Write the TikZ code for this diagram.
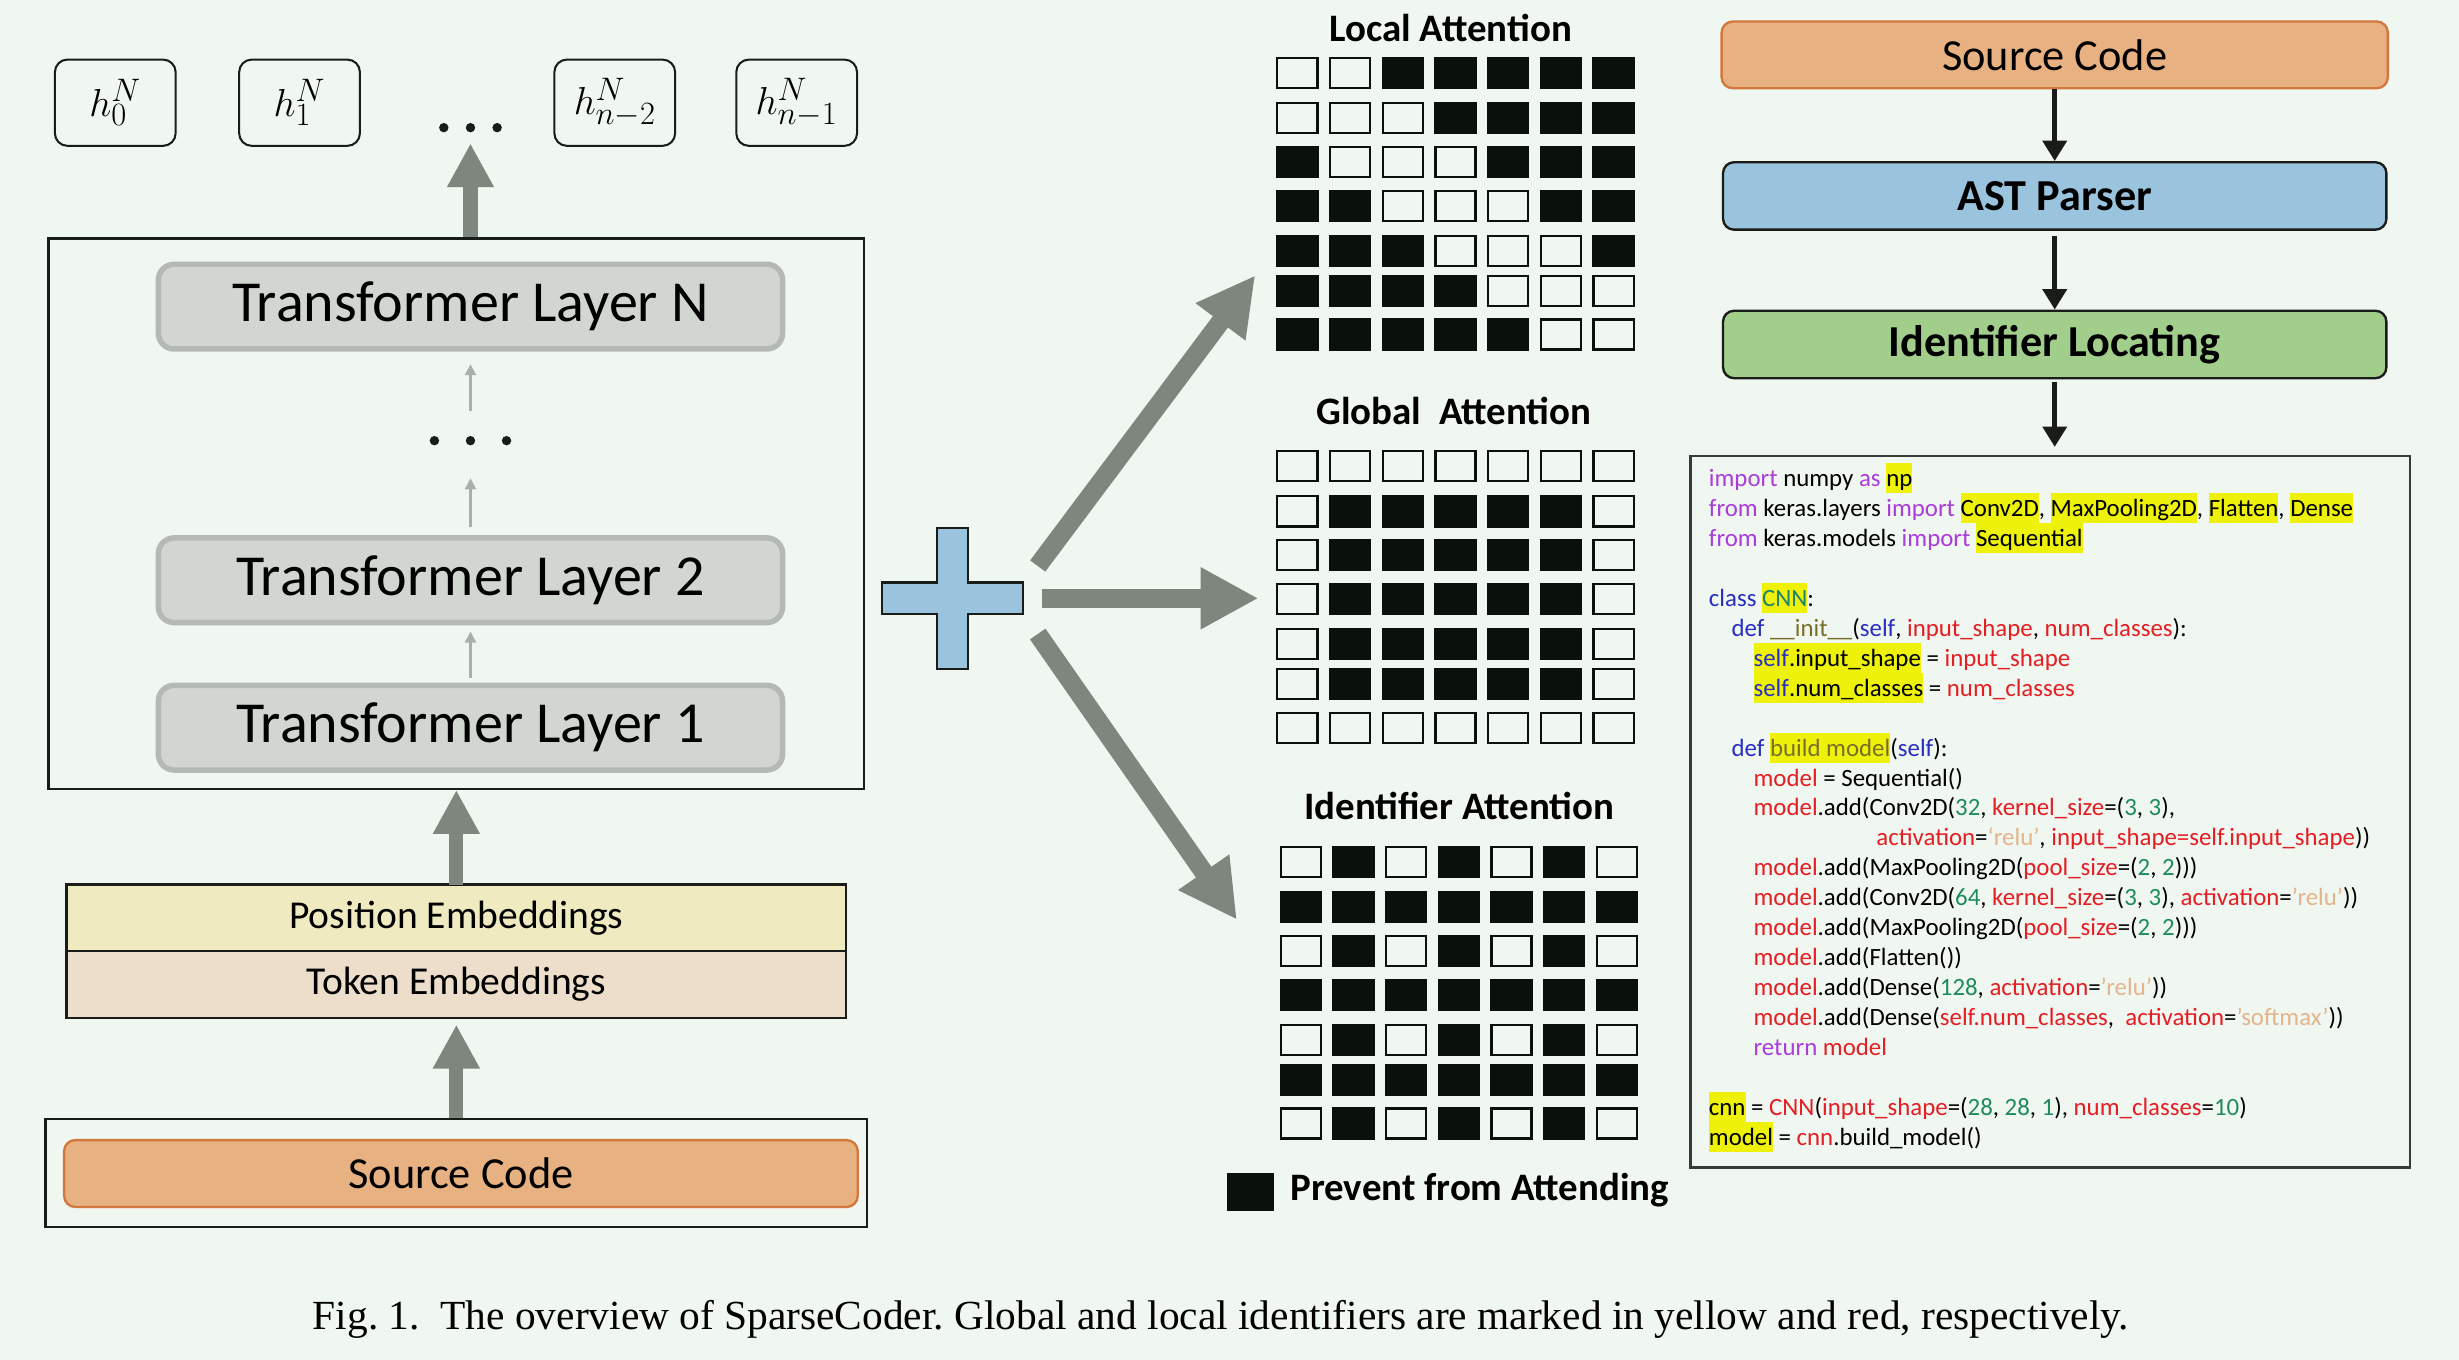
\documentclass[tikz,border=0pt]{standalone}
\usepackage{fontspec}
\setmainfont{Carlito}
\newfontfamily\capfont{Liberation Serif}
\usetikzlibrary{arrows.meta, positioning, calc}

\definecolor{bgmint}{RGB}{240,246,240}
\definecolor{linedark}{RGB}{25,28,25}
\definecolor{codeframe}{RGB}{55,58,55}
\definecolor{layerfill}{RGB}{209,214,208}
\definecolor{layeredge}{RGB}{180,185,179}
\definecolor{posfill}{RGB}{240,234,192}
\definecolor{tokfill}{RGB}{236,222,202}
\definecolor{orangefill}{RGB}{232,177,130}
\definecolor{orangeedge}{RGB}{210,120,60}
\definecolor{astblue}{RGB}{154,195,222}
\definecolor{plusblue}{RGB}{154,195,222}
\definecolor{locgreen}{RGB}{162,206,140}
\definecolor{arrowgrey}{RGB}{127,134,126}
\definecolor{thingrey}{RGB}{170,176,169}
\definecolor{cellblack}{RGB}{10,17,10}
\definecolor{hlyellow}{RGB}{238,242,10}
\definecolor{kwpurple}{RGB}{170,60,220}
\definecolor{kwblue}{RGB}{40,45,195}
\definecolor{codered}{RGB}{228,30,35}
\definecolor{codegreen}{RGB}{30,140,90}
\definecolor{codetan}{RGB}{228,180,140}
\definecolor{codeolive}{RGB}{120,110,40}
\definecolor{codeteal}{RGB}{30,130,110}

\newcommand{\hlt}[1]{{\setlength{\fboxsep}{0pt}\colorbox{hlyellow}{\rule[-4.3pt]{0pt}{19.1pt}#1}}}
\newcommand{\ckw}[1]{\textcolor{kwpurple}{#1}}
\newcommand{\cbl}[1]{\textcolor{kwblue}{#1}}
\newcommand{\crd}[1]{\textcolor{codered}{#1}}
\newcommand{\cgn}[1]{\textcolor{codegreen}{#1}}
\newcommand{\ctn}[1]{\textcolor{codetan}{#1}}
\newcommand{\cov}[1]{\textcolor{codeolive}{#1}}

\begin{document}
\begin{tikzpicture}[
        x=1pt, y=-1pt,
        hbox/.style={draw=linedark, line width=1.3pt, rounded corners=8pt, minimum width=77pt, minimum height=55pt, inner sep=0pt, font=\fontsize{30}{34}\selectfont},
        layer/.style={draw=layeredge, fill=layerfill, line width=3.5pt, rounded corners=10pt, minimum width=398pt, minimum height=54pt, inner sep=0pt, font=\fontsize{37}{42}\selectfont},
        outerbox/.style={draw=linedark, line width=1.5pt, inner sep=0pt},
        emb/.style={draw=linedark, line width=1.5pt, outer sep=0pt, minimum width=497pt, minimum height=42.5pt, inner sep=0pt, font=\fontsize{25.2}{30}\selectfont},
        srcbox/.style={draw=orangeedge, fill=orangefill, line width=1.5pt, rounded corners=7pt, inner sep=0pt, font=\fontsize{28.3}{34}\selectfont},
        stepnode/.style={draw=linedark, line width=1.5pt, rounded corners=7pt, minimum width=423pt, minimum height=43pt, inner sep=0pt, font=\bfseries\fontsize{28.2}{34}\selectfont},
        masktitle/.style={font=\bfseries\fontsize{24.8}{30}\selectfont, inner sep=0pt},
        fatarrow/.style={draw=arrowgrey, line width=9pt, -{Triangle[width=28pt,length=28pt]}},
        widearrow/.style={draw=arrowgrey, line width=12pt, -{Triangle[width=37pt,length=37pt]}},
        thinarrow/.style={draw=thingrey, line width=1.5pt, -{Triangle[width=7pt,length=7pt]}},
        flowarrow/.style={draw=linedark, line width=3.5pt, -{Triangle[width=15pt,length=13pt]}},
        maskon/.style={fill=cellblack},
        maskoff/.style={draw=cellblack, line width=1.4pt}
    ]
        \useasboundingbox (0,0) rectangle (1568,867);
        \fill[bgmint] (0,0) rectangle (1568,867);

        \node[hbox] (h0) at (73.5,65.5) {$h_0^N$};
        \node[hbox] (h1) at (191,65.5) {$h_1^N$};
        \node[hbox] (hn2) at (392,65.5) {$h_{n-2}^N$};
        \node[hbox] (hn1) at (508,65.5) {$h_{n-1}^N$};
        \coordinate (tdots) at (300,81.4);
        \foreach \dx in {-17,0,17} \fill[linedark] ($(tdots)+(\dx,0)$) circle[radius=3pt];

        \node[outerbox, minimum width=520pt, minimum height=351pt] (enc) at (291,327.5) {};
        \node[layer] (lN) at (300,195.5) {Transformer Layer N};
        \node[layer] (l2) at (300,370) {Transformer Layer 2};
        \node[layer] (l1) at (300,464) {Transformer Layer 1};
        \coordinate (mdots) at (300,281);
        \foreach \dx in {-23,0,23} \fill[linedark] ($(mdots)+(\dx,0)$) circle[radius=3pt];

        \draw[thinarrow, shorten <=19pt, shorten >=8pt] (mdots) -- (lN.south);
        \draw[thinarrow, shorten <=5pt, shorten >=24pt] (l2.north) -- (mdots);
        \draw[thinarrow, shorten <=3pt, shorten >=4pt] (l1.north) -- (l2.south);
        \draw[fatarrow, shorten >=10pt] (enc.north -| tdots) -- (tdots);

        \node[emb, fill=posfill] (pos) at (291,585.3) {Position Embeddings};
        \node[emb, fill=tokfill, below=0pt of pos] (tok) {Token Embeddings};
        \draw[fatarrow] (pos.north) -- (enc.south);

        \node[outerbox, minimum width=524pt, minimum height=68.7pt] (srcout) at (291,748) {};
        \node[srcbox, minimum width=506pt, minimum height=42.6pt] (src) at (293.9,748.3) {Source Code};
        \draw[fatarrow, shorten >=4.3pt] (srcout.north) -- (tok.south);

        \coordinate (plus) at (607.3,381.5);
        \draw[draw=linedark, fill=plusblue, line width=1.5pt] (plus) ++(-10,-45) -- ++(20,0) -- ++(0,35) -- ++(35,0) -- ++(0,20) -- ++(-35,0) -- ++(0,35) -- ++(-20,0) -- ++(0,-35) -- ++(-35,0) -- ++(0,-20) -- ++(35,0) -- cycle;

        \coordinate (upS) at (661.7,360.9);
        \coordinate (upT) at (800.4,175.6);
        \coordinate (midS) at (664.3,381.5);
        \coordinate (midT) at (802.5,381.5);
        \coordinate (dnS) at (661.7,404.3);
        \coordinate (dnT) at (788.7,586.5);
        \draw[widearrow] (upS) -- (upT);
        \draw[widearrow] (midS) -- (midT);
        \draw[widearrow] (dnS) -- (dnT);

        \node[masktitle, anchor=base] (loctitle) at (925,26.3) {Local Attention};
        \node[masktitle, anchor=base] (globtitle) at (927,271) {Global~~Attention};
        \node[masktitle, anchor=base] (idtitle) at (930.5,522.5) {Identifier Attention};

        \foreach \dy [count=\r] in {0,28.8,56.8,84.8,113.5,139,166.8}
            \foreach \c in {1,...,7} {
                \pgfmathsetmacro\cx{813.8+33.6*(\c-1)}
                \pgfmathsetmacro\cy{36.2+\dy}
                \pgfmathtruncatemacro\blk{abs(\r-\c)>=2}
                \ifnum\blk=1 \fill[maskon] (\cx,\cy) rectangle ++(27,20.6);
                \else \draw[maskoff] (\cx+0.7,\cy+0.7) rectangle ++(25.6,19.2); \fi
            }
        \foreach \dy [count=\r] in {0,28.8,56.8,84.8,113.5,139,166.8}
            \foreach \c in {1,...,7} {
                \pgfmathsetmacro\cx{813.8+33.6*(\c-1)}
                \pgfmathsetmacro\cy{287+\dy}
                \pgfmathtruncatemacro\blk{(\r>1)*(\r<7)*(\c>1)*(\c<7)}
                \ifnum\blk=1 \fill[maskon] (\cx,\cy) rectangle ++(27,20.6);
                \else \draw[maskoff] (\cx+0.7,\cy+0.7) rectangle ++(25.6,19.2); \fi
            }
        \foreach \dy [count=\r] in {0,28.8,56.8,84.8,113.5,139,166.8}
            \foreach \c in {1,...,7} {
                \pgfmathsetmacro\cx{815.9+33.6*(\c-1)}
                \pgfmathsetmacro\cy{539.3+\dy}
                \pgfmathtruncatemacro\blk{max(mod(\r+1,2),mod(\c+1,2))}
                \ifnum\blk=1 \fill[maskon] (\cx,\cy) rectangle ++(27,20.6);
                \else \draw[maskoff] (\cx+0.7,\cy+0.7) rectangle ++(25.6,19.2); \fi
            }

        \node[maskon, minimum width=29.7pt, minimum height=24.3pt, inner sep=0pt] (legsq) at (797.2,760.2) {};
        \node[masktitle, anchor=base west] (legtxt) at (822.7,765.7) {Prevent from Attending};

        \node[srcbox, minimum width=424.8pt, minimum height=42.5pt] (rsrc) at (1310.2,35) {Source Code};
        \node[stepnode, fill=astblue, below=45.7pt of rsrc] (ast) {AST Parser};
        \node[stepnode, fill=locgreen, below=50.2pt of ast] (idloc) {Identifier Locating};
        \node[draw=codeframe, line width=1.5pt, minimum width=458.5pt, minimum height=453.6pt, inner sep=0pt, anchor=north] (codebox) at (1307.3,290) {};

        \draw[flowarrow] (rsrc) -- (ast);
        \draw[flowarrow, shorten <=3pt] (ast) -- (idloc);
        \draw[flowarrow, shorten <=2pt, shorten >=5pt] (idloc.south) -- (idloc.south |- codebox.north);

        \node[anchor=north west, inner sep=0pt, align=left, font=\fontsize{15.85}{19.1}\selectfont] (code) at (1089.5,295.2) {%
            \ckw{import} numpy \ckw{as} \hlt{np}\\
            \ckw{from} keras.layers \ckw{import} \hlt{Conv2D}, \hlt{MaxPooling2D}, \hlt{Flatten}, \hlt{Dense}\\
            \ckw{from} keras.models \ckw{import} \hlt{Sequential}\\
            \mbox{}\\
            \cbl{class} \hlt{\textcolor{codeteal}{CNN}}:\\
            \hspace*{14.5pt}\cbl{def} \cov{\_\_init\_\_}(\cbl{self}, \crd{input\_shape}, \crd{num\_classes}):\\
            \hspace*{28.5pt}\hlt{\cbl{self}.input\_shape} = \crd{input\_shape}\\
            \hspace*{28.5pt}\hlt{\cbl{self}.num\_classes} = \crd{num\_classes}\\
            \mbox{}\\
            \hspace*{14.5pt}\cbl{def} \hlt{\cov{build model}}(\cbl{self}):\\
            \hspace*{28.5pt}\crd{model} = Sequential()\\
            \hspace*{28.5pt}\crd{model}.add(Conv2D(\cgn{32}, \crd{kernel\_size}=(\cgn{3}, \cgn{3}),\\
            \hspace*{106.8pt}\crd{activation}=\ctn{`relu'}, \crd{input\_shape=self.input\_shape}))\\
            \hspace*{28.5pt}\crd{model}.add(MaxPooling2D(\crd{pool\_size}=(\cgn{2}, \cgn{2})))\\
            \hspace*{28.5pt}\crd{model}.add(Conv2D(\cgn{64}, \crd{kernel\_size}=(\cgn{3}, \cgn{3}), \crd{activation}=\ctn{'relu'}))\\
            \hspace*{28.5pt}\crd{model}.add(MaxPooling2D(\crd{pool\_size}=(\cgn{2}, \cgn{2})))\\
            \hspace*{28.5pt}\crd{model}.add(Flatten())\\
            \hspace*{28.5pt}\crd{model}.add(Dense(\cgn{128}, \crd{activation}=\ctn{'relu'}))\\
            \hspace*{28.5pt}\crd{model}.add(Dense(\crd{self.num\_classes},\ \ \crd{activation}=\ctn{'softmax'}))\\
            \hspace*{28.5pt}\ckw{return} \crd{model}\\
            \mbox{}\\
            \hlt{cnn} = \crd{CNN}(\crd{input\_shape}=(\cgn{28}, \cgn{28}, \cgn{1}), \crd{num\_classes}=\cgn{10})\\
            \hlt{model} = \crd{cnn}.build\_model()};

        \node[anchor=base, inner sep=0pt, font=\capfont\frenchspacing\fontsize{26.4}{31}\selectfont] (caption) at (778.5,848) {Fig. 1.\ \ The overview of SparseCoder. Global and local identifiers are marked in yellow and red, respectively.};
    \end{tikzpicture}
\end{document}
